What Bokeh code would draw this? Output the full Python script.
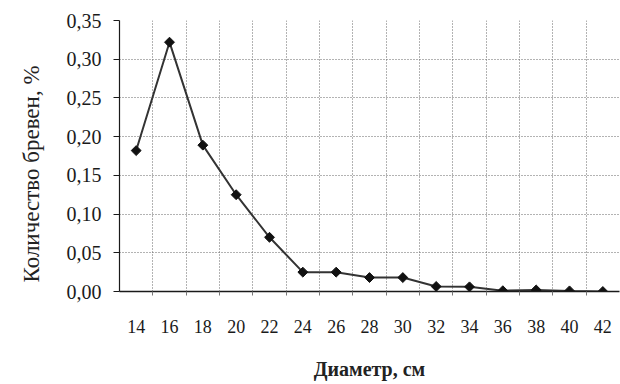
import math
from bokeh.plotting import figure
from bokeh.models import Range1d, FixedTicker, Title
from bokeh.embed import file_html
from bokeh.resources import INLINE

# ---- data ----
diameters = [14, 16, 18, 20, 22, 24, 26, 28, 30, 32, 34, 36, 38, 40, 42]
share = [0.182, 0.322, 0.189, 0.125, 0.070, 0.025, 0.025, 0.018, 0.018,
         0.0065, 0.006, 0.001, 0.002, 0.0008, 0.0]
y_ticks = [0.0, 0.05, 0.10, 0.15, 0.20, 0.25, 0.30, 0.35]
y_tick_labels = ["0,00", "0,05", "0,10", "0,15", "0,20", "0,25", "0,30", "0,35"]
x_title = "Диаметр, см"
y_title = "Количество бревен, %"

FONT = "Liberation Serif"
INK = "#1a1a1a"

p = figure(width=620, height=384, output_backend="svg", toolbar_location=None,
           x_range=Range1d(diameters[0] - 1, diameters[-1] + 1),
           y_range=Range1d(y_ticks[0], y_ticks[-1]),
           min_border_left=118, min_border_right=1, min_border_top=20,
           min_border_bottom=93)
p.outline_line_color = None
p.background_fill_color = "white"
p.border_fill_color = "white"

boundaries = [d + 1 for d in diameters]

# grid
p.xgrid.ticker = FixedTicker(ticks=boundaries)
p.xgrid.grid_line_color = "#666666"
p.xgrid.grid_line_dash = "1 2"
p.xgrid.grid_line_width = 1
p.ygrid.ticker = FixedTicker(ticks=y_ticks[1:])
p.ygrid.grid_line_color = "#666666"
p.ygrid.grid_line_dash = "1 2"
p.ygrid.grid_line_width = 1

# x axis
xa = p.xaxis[0]
xa.ticker = FixedTicker(ticks=diameters, minor_ticks=boundaries[:-1])
xa.major_tick_line_color = None
xa.major_tick_out = 0
xa.major_tick_in = 0
xa.minor_tick_out = 4
xa.minor_tick_in = 0
xa.minor_tick_line_color = "#777777"
xa.axis_line_color = INK
xa.axis_line_width = 1.5
xa.major_label_standoff = 24
xa.major_label_text_font = FONT
xa.major_label_text_font_size = "18px"
xa.major_label_text_color = INK
xa.axis_label = x_title
xa.axis_label_standoff = 22
xa.axis_label_text_font = FONT
xa.axis_label_text_font_size = "20px"
xa.axis_label_text_font_style = "bold"
xa.axis_label_text_color = "#222222"

# y axis
ya = p.yaxis[0]
ya.ticker = FixedTicker(ticks=y_ticks)
ya.major_label_overrides = {t: s for t, s in zip(y_ticks, y_tick_labels)}
ya.minor_tick_line_color = None
ya.major_tick_out = 6
ya.major_tick_in = 0
ya.major_tick_line_color = INK
ya.axis_line_color = INK
ya.axis_line_width = 1.2
ya.major_label_standoff = 12
ya.major_label_text_font = FONT
ya.major_label_text_font_size = "20px"
ya.major_label_text_color = INK

# series
p.line(diameters, share, line_color="#333333", line_width=2)
p.scatter(diameters, share, marker="square", angle=math.pi / 4, size=7,
          fill_color="#111111", line_color="#111111")

# y title
p.add_layout(Title(text=y_title, align="left", offset=9, standoff=36,
                   vertical_align="top",
                   text_font=FONT, text_font_size="23px",
                   text_font_style="normal", text_color="#222222"), "left")

open("out.html", "w").write(file_html(p, INLINE))
